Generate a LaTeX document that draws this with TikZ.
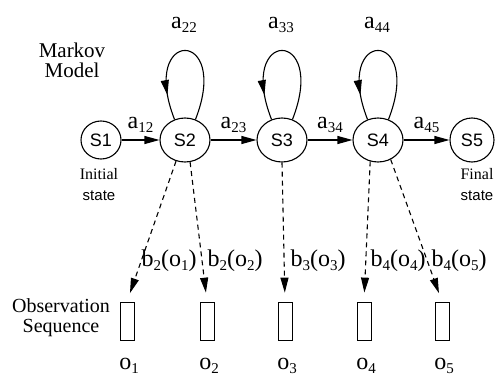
\documentclass[tikz,border=0pt]{standalone}
\usepackage{fontspec}
\setmainfont{Liberation Serif}
\setsansfont{Liberation Sans}
\usetikzlibrary{arrows.meta,calc,positioning,shapes.geometric,decorations.markings}
\newcommand{\lsub}[1]{\raisebox{-4pt}{\fontsize{15}{15}\selectfont #1}}

\begin{document}
\begin{tikzpicture}[x=1pt,y=1pt,line width=1.1pt,
  >={Triangle[length=15pt,width=8pt]},
  state/.style={draw,ellipse,inner sep=0pt,minimum width=50pt,minimum height=44pt,
    font=\sffamily\fontsize{18}{18}\selectfont},
  lbl/.style={inner sep=1pt,font=\fontsize{24}{24}\selectfont},
  note/.style={align=center,inner sep=0pt},
  selfloop/.style={postaction={decorate},
    decoration={markings,mark=at position 0.84 with {\arrow{>}}}},
  emit/.style={->,dash pattern=on 5pt off 4pt,shorten >=9pt},
  obs/.style={draw,line width=0.8pt,inner sep=0pt,minimum width=14pt,minimum height=38pt}]
  \useasboundingbox (0,0) rectangle (496,376);
  % hidden states of the chain
  \node[state,minimum width=40pt,minimum height=38pt] (s1) at (101,236) {S1};
  \node[state] (s2) at (185,236) {S2};
  \node[state] (s3) at (282,236) {S3};
  \node[state] (s4) at (378,236) {S4};
  \node[state,minimum width=44pt] (s5) at (472,236) {S5};
  \draw[->] (s1) -- node[lbl,above=6pt] (a12) {a\lsub{12}} (s2);
  \draw[->] (s2) -- node[lbl,above=6pt] (a23) {a\lsub{23}} (s3);
  \draw[->] (s3) -- node[lbl,above=6pt] (a34) {a\lsub{34}} (s4);
  \draw[->] (s4) -- node[lbl,above=6pt] (a45) {a\lsub{45}} (s5);
  \foreach \i in {2,3,4} {
    \draw[selfloop] (s\i.63) .. controls +(36,92) and +(-36,92) .. (s\i.117);
    \node[lbl,anchor=base] (a\i\i) at ($(s\i)+(-1,112)$) {a\lsub{\i\i}};
  }
  \node[note,font=\fontsize{21}{20}\selectfont] (markov) at (72,316) {Markov\\Model};
  \node[note,font=\fontsize{16}{21}\selectfont] (init) at (99,191) {Initial\\{\sffamily\fontsize{15}{21}\selectfont state}};
  \node[note,font=\fontsize{16}{21}\selectfont] (final) at (477,191) {Final\\{\sffamily\fontsize{15}{21}\selectfont state}};
  % observations
  \foreach \x/\i in {127/1,207/2,285/3,364/4,442/5} {
    \node[obs] (o\i) at (\x,55) {};
    \node[lbl,anchor=base] (ol\i) at (\x+2,7) {o\lsub{\i}};
  }
  \node[note,font=\fontsize{20}{20}\selectfont] (obsseq) at (61,58) {Observation\\Sequence};
  \draw[emit] (s2.-113) -- (o1.north);
  \draw[emit] (s2.-77) -- (o2.north);
  \draw[emit] (s3.-90) -- (o3.north);
  \draw[emit] (s4.-110) -- (o4.north);
  \draw[emit] (s4.-57) -- (o5.north);
  \node[lbl,anchor=base] (b21) at (169,110) {b\lsub{2}(o\lsub{1})};
  \node[lbl,anchor=base] (b22) at (235,110) {b\lsub{2}(o\lsub{2})};
  \node[lbl,anchor=base] (b33) at (318,110) {b\lsub{3}(o\lsub{3})};
  \node[lbl,anchor=base] (b44) at (398,110) {b\lsub{4}(o\lsub{4})};
  \node[lbl,anchor=base] (b45) at (459,110) {b\lsub{4}(o\lsub{5})};
\end{tikzpicture}
\end{document}
